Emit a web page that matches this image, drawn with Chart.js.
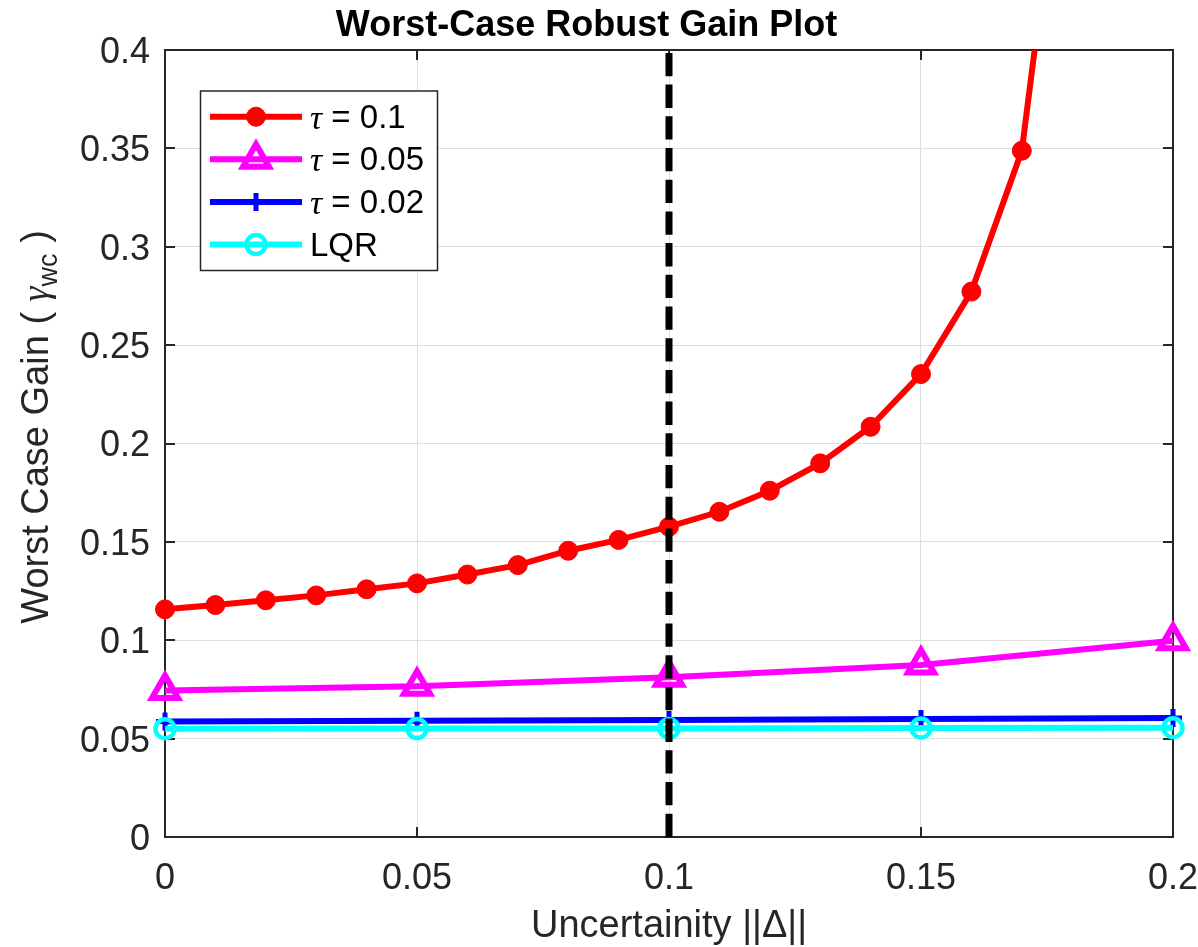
<!DOCTYPE html>
<html>
<head>
<meta charset="utf-8">
<script src="https://cdn.jsdelivr.net/npm/chart.js@4.4.1/dist/chart.umd.min.js"></script>
<style>
html, body { margin: 0; padding: 0; background: #ffffff; }
canvas { display: block; }
</style>
</head>
<body>
<canvas id="gainChart" width="1198" height="947"></canvas>
<script>
// Uncertainty levels ||Δ|| evaluated for the robust design with τ = 0.1
const deltaFine = [0, 0.01, 0.02, 0.03, 0.04, 0.05, 0.06, 0.07, 0.08, 0.09,
                   0.10, 0.11, 0.12, 0.13, 0.14, 0.15, 0.16, 0.17, 0.18];
const gainTau010 = [0.1157, 0.1179, 0.1203, 0.1228, 0.1259, 0.1289, 0.1334, 0.1382, 0.1455, 0.1510,
                    0.1577, 0.1653, 0.1760, 0.1899, 0.2085, 0.2353, 0.2772, 0.3488, 0.5500];

// Coarser uncertainty grid for the other controllers
const deltaCoarse = [0, 0.05, 0.10, 0.15, 0.20];
const gainTau005 = [0.0744, 0.0766, 0.0812, 0.0874, 0.0998];
const gainTau002 = [0.0587, 0.0591, 0.0595, 0.0600, 0.0605];
const gainLQR    = [0.0550, 0.0551, 0.0552, 0.0554, 0.0555];

// Vertical reference at the nominal uncertainty bound
const refDelta = [0.1, 0.1];
const refGain  = [0, 0.4];

const seriesLabels = ['τ = 0.1', 'τ = 0.05', 'τ = 0.02', 'LQR'];

const xTickValues = [0, 0.05, 0.1, 0.15, 0.2];
const xTickLabels = ['0', '0.05', '0.1', '0.15', '0.2'];
const yTickValues = [0, 0.05, 0.1, 0.15, 0.2, 0.25, 0.3, 0.35, 0.4];
const yTickLabels = ['0', '0.05', '0.1', '0.15', '0.2', '0.25', '0.3', '0.35', '0.4'];

const toPoints = (xs, ys) => xs.map((x, i) => ({ x: x, y: ys[i] }));

const AXIS_COLOR = '#262626';
const SANS = '"Liberation Sans", Arial, Helvetica, sans-serif';
const SERIF = '"Liberation Serif", "Times New Roman", serif';

Chart.defaults.font.family = SANS;
Chart.defaults.color = AXIS_COLOR;

// White page background
const backgroundPlugin = {
  id: 'whiteBackground',
  beforeDraw(chart) {
    const ctx = chart.ctx;
    ctx.save();
    ctx.fillStyle = '#ffffff';
    ctx.fillRect(0, 0, chart.width, chart.height);
    ctx.restore();
  }
};

// Closed axes box with inward tick marks on all four sides
const axesBoxPlugin = {
  id: 'axesBox',
  beforeDatasetsDraw(chart) {
    const { ctx, chartArea: a, scales } = chart;
    const tickLen = 10;
    ctx.save();
    ctx.strokeStyle = AXIS_COLOR;
    ctx.lineWidth = 2;
    ctx.beginPath();
    scales.x.ticks.forEach(t => {
      const px = Math.round(scales.x.getPixelForValue(t.value));
      ctx.moveTo(px, a.bottom); ctx.lineTo(px, a.bottom - tickLen);
      ctx.moveTo(px, a.top);    ctx.lineTo(px, a.top + tickLen);
    });
    scales.y.ticks.forEach(t => {
      const py = Math.round(scales.y.getPixelForValue(t.value));
      ctx.moveTo(a.left, py);  ctx.lineTo(a.left + tickLen, py);
      ctx.moveTo(a.right, py); ctx.lineTo(a.right - tickLen, py);
    });
    ctx.stroke();
    ctx.strokeRect(a.left, a.top, a.right - a.left, a.bottom - a.top);
    ctx.restore();
  }
};

// Y-axis label with a subscripted gamma
const yTitlePlugin = {
  id: 'yTitle',
  afterDraw(chart) {
    const ctx = chart.ctx;
    const parts = [
      { t: 'Worst Case Gain ( ', font: '38px ' + SANS, dy: 0 },
      { t: 'γ', font: 'italic 38px ' + SERIF, dy: 0 },
      { t: 'wc', font: '27px ' + SANS, dy: 9 },
      { t: ' )', font: '38px ' + SANS, dy: 0 }
    ];
    ctx.save();
    let total = 0;
    parts.forEach(p => { ctx.font = p.font; p.w = ctx.measureText(p.t).width; total += p.w; });
    ctx.translate(48, 427);
    ctx.rotate(-Math.PI / 2);
    ctx.fillStyle = AXIS_COLOR;
    ctx.textBaseline = 'alphabetic';
    ctx.textAlign = 'left';
    let x = -total / 2;
    parts.forEach(p => { ctx.font = p.font; ctx.fillText(p.t, x, p.dy); x += p.w; });
    ctx.restore();
  }
};

function drawMarker(ctx, style, r, x, y) {
  ctx.beginPath();
  if (style === 'circle') {
    ctx.arc(x, y, r, 0, Math.PI * 2);
  } else if (style === 'triangle') {
    for (let k = 0; k < 3; k++) {
      const ang = k * 2 * Math.PI / 3;
      const px = x + Math.sin(ang) * r, py = y - Math.cos(ang) * r;
      if (k === 0) ctx.moveTo(px, py); else ctx.lineTo(px, py);
    }
    ctx.closePath();
  } else if (style === 'cross') {
    ctx.moveTo(x, y - r); ctx.lineTo(x, y + r);
    ctx.moveTo(x - r, y); ctx.lineTo(x + r, y);
  }
}

// Boxed legend in the upper-left of the plot area
const boxLegendPlugin = {
  id: 'boxLegend',
  afterDraw(chart) {
    const ctx = chart.ctx;
    const items = chart.data.datasets.filter(d => d.label);
    const box = { x: 200.5, y: 91, w: 237, h: 179.5 };
    ctx.save();
    ctx.fillStyle = '#ffffff';
    ctx.fillRect(box.x, box.y, box.w, box.h);
    ctx.strokeStyle = AXIS_COLOR;
    ctx.lineWidth = 1.5;
    ctx.strokeRect(box.x, box.y, box.w, box.h);
    items.forEach((d, i) => {
      const cy = 116.7 + i * 42.6;
      ctx.strokeStyle = d.borderColor;
      ctx.lineWidth = d.borderWidth;
      ctx.setLineDash([]);
      ctx.beginPath();
      ctx.moveTo(210, cy); ctx.lineTo(302, cy);
      ctx.stroke();
      ctx.fillStyle = d.pointBackgroundColor;
      ctx.lineWidth = d.pointBorderWidth;
      drawMarker(ctx, d.pointStyle, d.pointRadius, 256, cy);
      if (d.pointStyle !== 'cross') ctx.fill();
      ctx.stroke();
      // label text
      ctx.fillStyle = '#000000';
      ctx.textBaseline = 'middle';
      ctx.textAlign = 'left';
      let tx = 310;
      let rest = d.label;
      if (rest.startsWith('τ')) {
        ctx.font = 'italic 34px ' + SERIF;
        ctx.fillText('τ', tx, cy + 3);
        tx += ctx.measureText('τ').width;
        rest = rest.slice(1);
      }
      ctx.font = '33px ' + SANS;
      ctx.fillText(rest, tx, cy + 2);
    });
    ctx.restore();
  }
};

const datasets = [
  {
    label: seriesLabels[0],
    data: toPoints(deltaFine, gainTau010),
    borderColor: '#ff0000',
    backgroundColor: '#ff0000',
    pointBackgroundColor: '#ff0000',
    borderWidth: 6,
    pointStyle: 'circle',
    pointRadius: 9.5,
    pointBorderWidth: 1,
    clip: { left: 20, right: 20, top: 0, bottom: 20 },
    order: 4
  },
  {
    label: seriesLabels[1],
    data: toPoints(deltaCoarse, gainTau005),
    borderColor: '#ff00ff',
    backgroundColor: 'rgba(0,0,0,0)',
    pointBackgroundColor: 'rgba(0,0,0,0)',
    borderWidth: 6,
    pointStyle: 'triangle',
    pointRadius: 15,
    pointBorderWidth: 6,
    clip: 20,
    order: 3
  },
  {
    label: seriesLabels[2],
    data: toPoints(deltaCoarse, gainTau002),
    borderColor: '#0000ff',
    backgroundColor: '#0000ff',
    pointBackgroundColor: '#0000ff',
    borderWidth: 6,
    pointStyle: 'cross',
    pointRadius: 9,
    pointBorderWidth: 5,
    clip: 20,
    order: 2
  },
  {
    label: seriesLabels[3],
    data: toPoints(deltaCoarse, gainLQR),
    borderColor: '#00ffff',
    backgroundColor: 'rgba(0,0,0,0)',
    pointBackgroundColor: 'rgba(0,0,0,0)',
    borderWidth: 6,
    pointStyle: 'circle',
    pointRadius: 9.5,
    pointBorderWidth: 4.5,
    clip: 20,
    order: 1
  },
  {
    data: toPoints(refDelta, refGain),
    borderColor: '#000000',
    borderWidth: 7,
    borderDash: [23.3, 8.4],
    borderCapStyle: 'butt',
    pointRadius: 0,
    clip: 0,
    order: 0
  }
];

new Chart(document.getElementById('gainChart'), {
  type: 'line',
  data: { datasets: datasets },
  options: {
    responsive: false,
    devicePixelRatio: 1,
    animation: false,
    events: [],
    layout: { padding: { top: 0, right: 25, bottom: 0, left: 0 } },
    elements: { line: { tension: 0 } },
    plugins: {
      legend: { display: false },
      tooltip: { enabled: false },
      title: {
        display: true,
        text: 'Worst-Case Robust Gain Plot',
        color: '#000000',
        font: { size: 36, weight: 'bold', lineHeight: 1 },
        padding: { top: 8, bottom: 6 }
      }
    },
    scales: {
      x: {
        type: 'linear',
        min: 0,
        max: 0.2,
        afterBuildTicks(scale) { scale.ticks = xTickValues.map(v => ({ value: v })); },
        afterFit(scale) { scale.height = 110; scale.paddingLeft = 0; scale.paddingRight = 0; },
        ticks: {
          autoSkip: false,
          maxRotation: 0,
          padding: 20,
          color: AXIS_COLOR,
          font: { size: 36 },
          callback: (v, i) => xTickLabels[i]
        },
        grid: { color: '#dedede', lineWidth: 1, drawTicks: false },
        border: { display: false },
        title: {
          display: true,
          text: 'Uncertainity ||Δ||',
          color: AXIS_COLOR,
          font: { size: 38, lineHeight: 1 },
          padding: { top: 0, bottom: 1 }
        }
      },
      y: {
        type: 'linear',
        min: 0,
        max: 0.4,
        afterBuildTicks(scale) { scale.ticks = yTickValues.map(v => ({ value: v })); },
        afterFit(scale) { scale.width = 165; scale.paddingTop = 0; scale.paddingBottom = 0; },
        ticks: {
          padding: 15,
          labelOffset: 3,
          color: AXIS_COLOR,
          font: { size: 36 },
          callback: (v, i) => yTickLabels[i]
        },
        grid: { color: '#dedede', lineWidth: 1, drawTicks: false },
        border: { display: false }
      }
    }
  },
  plugins: [backgroundPlugin, axesBoxPlugin, yTitlePlugin, boxLegendPlugin]
});
</script>
</body>
</html>
